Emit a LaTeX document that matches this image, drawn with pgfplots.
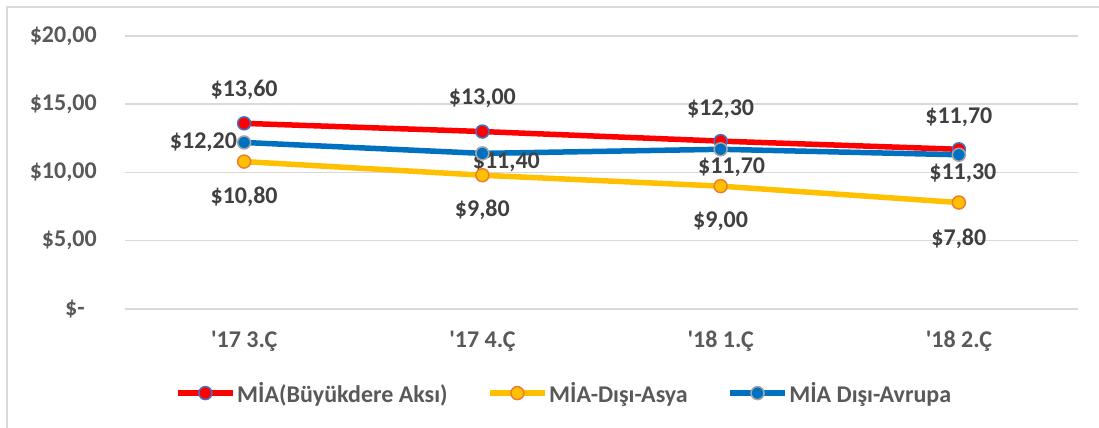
\documentclass[border=0pt]{standalone}
\usepackage{fontspec}
\setmainfont{Carlito}
\usepackage{pgfplots}
\pgfplotsset{compat=1.18}
\definecolor{cred}{HTML}{FF0000}
\definecolor{cyel}{HTML}{FFC000}
\definecolor{cblu}{HTML}{0070C0}
\definecolor{medge}{HTML}{4472C4}
\definecolor{oedge}{HTML}{ED7D31}
\definecolor{gedge}{HTML}{A5A5A5}
\definecolor{txt}{HTML}{404040}
\definecolor{tickc}{HTML}{595959}
\definecolor{gridc}{HTML}{D9D9D9}
\begin{document}
\begin{tikzpicture}[font=\fontsize{24bp}{28bp}\selectfont\bfseries]
\useasboundingbox (0,0) rectangle (1099bp,428bp);
\draw[gridc, line width=1.5bp] (7bp,0) -- (7bp,421bp) -- (1099bp,421bp);
\begin{axis}[at={(125bp,119bp)}, anchor=south west, scale only axis,
  width=953bp, height=273bp,
  xmin=0, xmax=4, ymin=0, ymax=20, clip=false,
  xtick={0.5,1.5,2.5,3.5},
  xticklabels={{\textquotesingle17 3.Ç},{\textquotesingle17 4.Ç},{\textquotesingle18 1.Ç},{\textquotesingle18 2.Ç}},
  ytick={0,5,10,15,20},
  yticklabels={{\$-\phantom{0}},{\$5,00},{\$10,00},{\$15,00},{\$20,00}},
  axis line style={draw=none}, tick style={draw=none}, major tick length=0pt,
  ymajorgrids, grid style={gridc, line width=1.5bp},
  tick label style={font=\fontsize{24bp}{28bp}\selectfont\bfseries, text=tickc},
  xticklabel style={inner sep=0pt, anchor=north, yshift=-22bp},
  yticklabel style={inner sep=0pt, anchor=east, xshift=-28bp},
  legend columns=3,
  legend style={at={(axis description cs:0.0524,-0.308)}, anchor=west, draw=none, fill=none,
    font=\fontsize{24bp}{28bp}\selectfont\bfseries, text=tickc, inner sep=0pt,
    nodes={inner sep=1.5bp},
    /tikz/every even column/.append style={column sep=38bp}},
  legend cell align=left,
  legend image code/.code={\draw[mark repeat=2,mark phase=2,#1] plot coordinates {(0bp,0bp) (27.5bp,0bp) (55bp,0bp)};},
]
\addplot[cred, line width=5.5bp, mark=*, mark size=6.5bp, mark options={fill=cred, draw=medge, line width=1.5bp}]
  coordinates {(0.5,13.6) (1.5,13.0) (2.5,12.3) (3.5,11.7)};
\addlegendentry{MİA(Büyükdere Aksı)}
\addplot[cyel, line width=5.5bp, mark=*, mark size=6.5bp, mark options={fill=cyel, draw=oedge, line width=1.5bp}]
  coordinates {(0.5,10.8) (1.5,9.8) (2.5,9.0) (3.5,7.8)};
\addlegendentry{MİA-Dışı-Asya}
\addplot[cblu, line width=5.5bp, mark=*, mark size=6.5bp, mark options={fill=cblu, draw=gedge, line width=1.5bp}]
  coordinates {(0.5,12.2) (1.5,11.4) (2.5,11.7) (3.5,11.3)};
\addlegendentry{MİA Dışı-Avrupa}
% data labels
\node[txt, yshift=33bp] at (axis cs:0.5,13.6) {\$13,60};
\node[txt, yshift=33bp] at (axis cs:1.5,13.0) {\$13,00};
\node[txt, yshift=32bp] at (axis cs:2.5,12.3) {\$12,30};
\node[txt, yshift=32bp] at (axis cs:3.5,11.7) {\$11,70};
\node[txt, yshift=-35bp] at (axis cs:0.5,10.8) {\$10,80};
\node[txt, yshift=-35bp] at (axis cs:1.5,9.8) {\$9,80};
\node[txt, yshift=-35bp] at (axis cs:2.5,9.0) {\$9,00};
\node[txt, yshift=-36bp] at (axis cs:3.5,7.8) {\$7,80};
\node[txt, anchor=east, inner sep=0pt, xshift=-7bp] at (axis cs:0.5,12.2) {\$12,20};
\node[txt, xshift=24bp, yshift=-9bp] at (axis cs:1.5,11.4) {\$11,40};
\node[txt, xshift=11bp, yshift=-18bp] at (axis cs:2.5,11.7) {\$11,70};
\node[txt, xshift=4bp, yshift=-18bp] at (axis cs:3.5,11.3) {\$11,30};
\end{axis}
\end{tikzpicture}
\end{document}
